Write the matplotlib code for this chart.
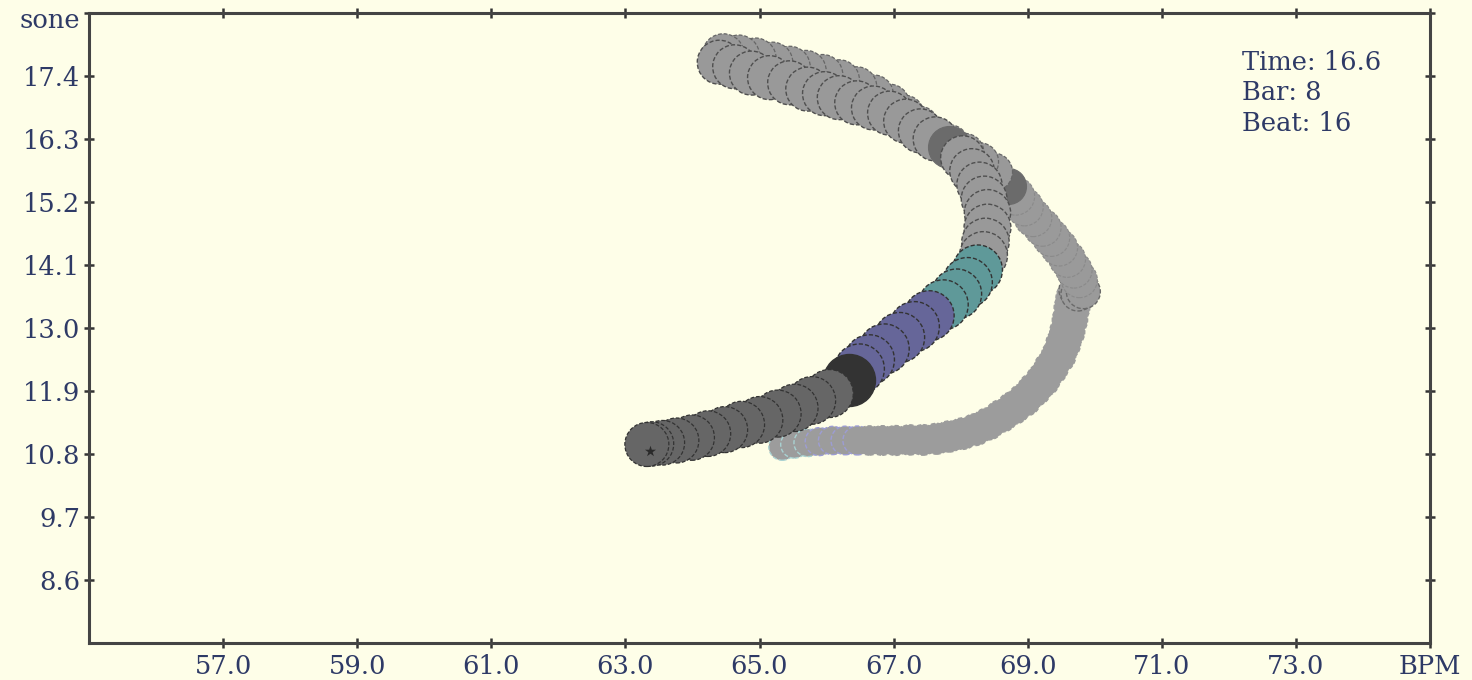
import matplotlib
matplotlib.use("Agg")
import matplotlib.pyplot as plt

# ---------------- data ----------------
# oldest, faded part of the worm (moving right, then up)
bpm_faded = [65.34, 65.52, 65.72, 65.89, 66.09, 66.28, 66.46, 66.64, 66.83, 67.03,
             67.24, 67.44, 67.64, 67.83, 68.03, 68.22, 68.41, 68.61, 68.79, 68.95,
             69.10, 69.23, 69.35, 69.46, 69.53, 69.59, 69.63, 69.66, 69.69]
sone_faded = [10.92, 10.96, 10.99, 11.01, 11.03, 11.03, 11.03, 11.03, 11.03, 11.03,
              11.04, 11.04, 11.06, 11.10, 11.15, 11.22, 11.32, 11.46, 11.60, 11.74,
              11.92, 12.09, 12.30, 12.51, 12.72, 12.93, 13.14, 13.35, 13.52]
# short hold at the turning point
bpm_hold = [69.72, 69.80, 69.75, 69.83]
sone_hold = [13.66, 13.72, 13.59, 13.63]
# climb up-left
bpm_climb = [69.77, 69.69, 69.59, 69.47, 69.35, 69.22, 69.08, 68.95, 68.82]
sone_climb = [13.84, 14.01, 14.20, 14.40, 14.57, 14.75, 14.92, 15.11, 15.30]
# accented beat (darker circle)
bpm_accent1 = [68.70]
sone_accent1 = [15.48]
# outgoing path along the top of the upper band
bpm_up = [68.49, 68.28, 68.06, 67.83, 67.61, 67.38, 67.16, 66.94, 66.70, 66.45,
          66.19, 65.94, 65.69, 65.45, 65.19, 64.94, 64.69, 64.46]
sone_up = [15.72, 15.90, 16.06, 16.21, 16.33, 16.53, 16.72, 16.91, 17.07, 17.21,
           17.33, 17.42, 17.49, 17.56, 17.63, 17.70, 17.75, 17.77]
# return path
bpm_return = [64.40, 64.63, 64.88, 65.15, 65.45, 65.72, 65.97, 66.19, 66.45, 66.70,
              66.94, 67.18, 67.40, 67.62]
sone_return = [17.64, 17.56, 17.45, 17.37, 17.28, 17.17, 17.09, 17.02, 16.93, 16.84,
               16.75, 16.61, 16.44, 16.30]
bpm_accent2 = [67.83]
sone_accent2 = [16.16]
bpm_down = [68.03, 68.17, 68.28, 68.35, 68.40, 68.40, 68.37, 68.34]
sone_down = [15.97, 15.74, 15.50, 15.25, 15.01, 14.75, 14.50, 14.26]
bpm_teal = [68.25, 68.10, 67.94, 67.74]
sone_teal = [14.01, 13.79, 13.59, 13.40]
bpm_purple = [67.53, 67.31, 67.09, 66.86, 66.64, 66.49]
sone_purple = [13.21, 13.02, 12.83, 12.63, 12.44, 12.28]
bpm_black = [66.34]
sone_black = [12.09]
bpm_tail = [66.04, 65.78, 65.52, 65.27, 65.00, 64.73, 64.48, 64.23, 63.99, 63.76,
            63.55, 63.39, 63.32]
sone_tail = [11.85, 11.73, 11.60, 11.50, 11.39, 11.31, 11.22, 11.15, 11.08, 11.03,
             10.99, 10.97, 10.96]
bpm_now = [63.36]
sone_now = [10.85]

x_ticks = [57.0, 59.0, 61.0, 63.0, 65.0, 67.0, 69.0, 71.0, 73.0, 75.0]
x_labels = ["57.0", "59.0", "61.0", "63.0", "65.0", "67.0", "69.0", "71.0", "73.0", "BPM"]
y_ticks = [8.6, 9.7, 10.8, 11.9, 13.0, 14.1, 15.2, 16.3, 17.4, 18.5]
y_labels = ["8.6", "9.7", "10.8", "11.9", "13.0", "14.1", "15.2", "16.3", "17.4", ""]
y_unit = "sone"
info_lines = ["Time: 16.6", "Bar: 8", "Beat: 16"]

# ---------------- style ----------------
BG = "#fefee8"
TXT = "#2e3a66"
FONT = ["DejaVu Serif"]
FS = 18.5
DASH = (0, (3, 1.5))

fig = plt.figure(figsize=(14.72, 6.8), dpi=100)
fig.patch.set_facecolor(BG)
ax = fig.add_axes([89 / 1472, 1 - 642.5 / 680, (1430 - 89) / 1472, (642.5 - 13) / 680])
ax.set_facecolor(BG)
ax.set_xlim(55, 75)
ax.set_ylim(7.5, 18.5)


def px2s(r_px):
    # radius in pixels -> scatter area in points^2
    d_pt = 2 * r_px * 72 / 100
    return d_pt ** 2


def worm(xs, ys, face, edge, lw, r0, r1=None, ls=DASH):
    r1 = r0 if r1 is None else r1
    n = len(xs)
    for i, (xi, yi) in enumerate(zip(xs, ys)):
        r = r0 + (r1 - r0) * i / max(n - 1, 1)
        ax.scatter([xi], [yi], s=px2s(r), c=face, edgecolors=edge, linewidths=lw,
                   linestyles=ls, zorder=2)


# faded beginning, with tinted outlines on the very first circles
n_f = len(bpm_faded)
faded_edges = ["#a9d2d2"] * 3 + ["#9c9cd4"] * 4 + ["#9c9c9c"] * (n_f - 7)
for i in range(n_f):
    r = 13.5 + (18 - 13.5) * i / (n_f - 1)
    ax.scatter([bpm_faded[i]], [sone_faded[i]], s=px2s(r), c="#9c9c9c",
               edgecolors=faded_edges[i], linewidths=1.0, linestyles=DASH, zorder=2)

worm(bpm_hold, sone_hold, "#9a9a9a", "#6a6a6a", 1.0, 17)
worm(bpm_climb, sone_climb, "#9a9a9a", "#8a8a8a", 0.8, 18, 19)
worm(bpm_accent1, sone_accent1, "#6b6b6b", "#6b6b6b", 0.8, 18, ls="solid")
worm(bpm_up, sone_up, "#999999", "#666666", 0.9, 19, 21)
worm(bpm_return, sone_return, "#999999", "#4f4f4f", 1.0, 22, 22)
worm(bpm_accent2, sone_accent2, "#6b6b6b", "#6b6b6b", 0.8, 21, ls="solid")
worm(bpm_down, sone_down, "#999999", "#4f4f4f", 1.0, 22, 24)
worm(bpm_teal, sone_teal, "#5f9999", "#333333", 1.0, 25)
worm(bpm_purple, sone_purple, "#666699", "#333333", 1.0, 25)
worm(bpm_black, sone_black, "#333333", "#333333", 1.0, 26, ls="solid")
worm(bpm_tail, sone_tail, "#666666", "#333333", 0.9, 24, 22)
ax.scatter(bpm_now, sone_now, s=70, marker="*", c="#2a2a2a", zorder=5, linewidths=0)

# ---------------- axes / ticks ----------------
ax.set_xticks(x_ticks)
ax.set_xticklabels(x_labels)
ax.set_yticks(y_ticks)
ax.set_yticklabels(y_labels)
ax.tick_params(axis="both", which="both", direction="inout", length=6.5, width=1.8,
               color="#333333", top=True, right=True, labeltop=False, labelright=False,
               labelsize=FS, labelcolor=TXT)
ax.tick_params(axis="x", pad=5)
ax.tick_params(axis="y", pad=3)
for lab in ax.get_xticklabels() + ax.get_yticklabels():
    lab.set_family(FONT)
for sp in ax.spines.values():
    sp.set_color("#444444")
    sp.set_linewidth(2.2)

# unit label of the y axis, sitting at the top tick
ax.text(-0.0067, 18.37, y_unit, transform=ax.get_yaxis_transform(), ha="right",
        va="center", fontsize=FS, family=FONT, color=TXT, clip_on=False)

ax.text(0.86, 0.942, "\n".join(info_lines), transform=ax.transAxes, ha="left", va="top",
        fontsize=FS, family=FONT, color=TXT, linespacing=1.28)

fig.savefig("out.png", dpi=100, facecolor=BG)
